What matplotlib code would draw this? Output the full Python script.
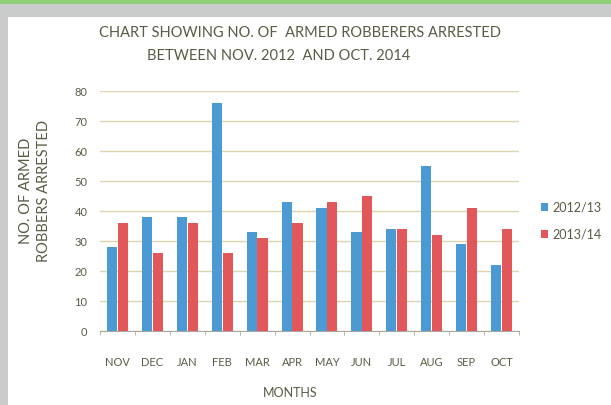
import matplotlib
matplotlib.use('Agg')
import matplotlib.pyplot as plt
import numpy as np

# data
months = ['NOV', 'DEC', 'JAN', 'FEB', 'MAR', 'APR', 'MAY', 'JUN', 'JUL', 'AUG', 'SEP', 'OCT']
arrests_2012_13 = [28, 38, 38, 76, 33, 43, 41, 33, 34, 55, 29, 22]
arrests_2013_14 = [36, 26, 36, 26, 31, 36, 43, 45, 34, 32, 41, 34]
series_names = ['2012/13', '2013/14']

plt.rcParams['font.family'] = ['Lato', 'DejaVu Sans']
text_col = '#5a5a44'
blue = '#4b9ad4'
red = '#e2575a'

fig = plt.figure(figsize=(6.11, 4.05), dpi=100)
fig.patch.set_facecolor('#c9cccb')
# white chart sheet with grey/green scan border
fig.patches.append(plt.Rectangle((8 / 611, 0), 1, 1 - 17 / 405, transform=fig.transFigure,
                                 facecolor='white', edgecolor='none', zorder=-5))
fig.patches.append(plt.Rectangle((0, 1 - 4 / 405), 1, 4 / 405, transform=fig.transFigure,
                                 facecolor='#8fcf7a', edgecolor='none', zorder=-5))

ax = fig.add_axes([100 / 611, 1 - 331 / 405, 419 / 611, 240 / 405])
ax.set_zorder(2)
ax.set_facecolor('none')

x = np.arange(len(months))
w = 0.29
ax.bar(x - w / 2 - 0.01, arrests_2012_13, w, color=blue, label=series_names[0], zorder=3)
ax.bar(x + w / 2 + 0.01, arrests_2013_14, w, color=red, label=series_names[1], zorder=3)

ax.set_xlim(-0.5, len(months) - 0.5)
ax.set_ylim(0, 80)
ax.set_yticks(range(0, 81, 10))
ax.grid(axis='y', color='#dcd5b0', linewidth=1.0, zorder=0)
for s in ['top', 'right', 'left']:
    ax.spines[s].set_visible(False)
ax.spines['bottom'].set_color('#a8a8a0')
ax.set_xticks(x)
ax.set_xticklabels(months, fontsize=8, color=text_col)
ax.set_xticks(np.arange(-0.5, len(months)), minor=True)
ax.tick_params(axis='x', which='major', length=0, pad=19)
ax.tick_params(axis='x', which='minor', length=3, color='#a8a8a0')
ax.tick_params(axis='y', length=0, labelsize=8, labelcolor=text_col, pad=9)

fig.text(290 / 611, 1 - 393 / 405, 'MONTHS', ha='center', va='center',
         fontsize=9, color=text_col)
fig.text(300 / 611, 1 - 33 / 405, 'CHART SHOWING NO. OF  ARMED ROBBERERS ARRESTED',
         ha='center', va='center', fontsize=10.5, color=text_col)
fig.text(279 / 611, 1 - 56 / 405, 'BETWEEN NOV. 2012  AND OCT. 2014',
         ha='center', va='center', fontsize=10.5, color=text_col)
fig.text(35 / 611, 1 - 191 / 405, 'NO. OF ARMED\nROBBERS ARRESTED', rotation=90,
         ha='center', va='center', fontsize=10.5, color=text_col, linespacing=1.3)

ax.legend(loc='center left', bbox_to_anchor=(1.025, 0.46), frameon=False, fontsize=9,
          handlelength=0.6, handleheight=0.6, handletextpad=0.3, labelspacing=1.2,
          labelcolor=text_col)

plt.savefig('out.png', dpi=100)
